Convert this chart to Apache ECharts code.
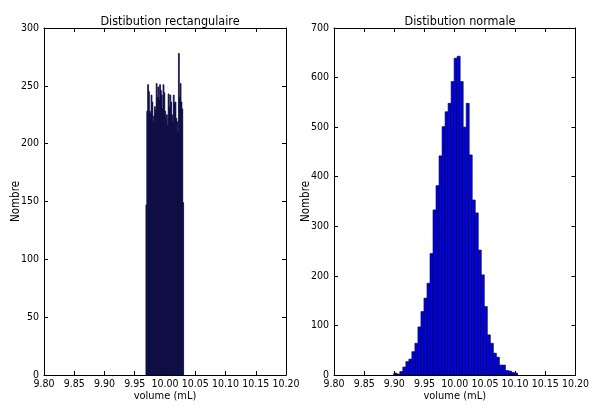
<!DOCTYPE html>
<html>
<head>
<meta charset="utf-8">
<script src="https://cdn.jsdelivr.net/npm/echarts@6/dist/echarts.min.js"></script>
<style>
html,body{margin:0;padding:0;background:#fff;}
#c{width:592px;height:410px;}
</style>
</head>
<body>
<div id="c"></div>
<script>
// ---- data ----
const titles = ['Distibution rectangulaire', 'Distibution normale'];
const xAxisTitle = 'volume (mL)';
const yAxisTitle = 'Nombre';
const xMin = 9.80, xMax = 10.20, xStep = 0.05;
const yMaxLeft = 300, yStepLeft = 50;
const yMaxRight = 700, yStepRight = 100;

// rectangular (uniform) histogram
const uniformBinStart = 9.9685;
const uniformBinWidth = 0.001414;
const uniformCounts = [
  147, 228, 251, 245, 228, 226, 242, 236, 219, 224,
  232, 229, 252, 240, 249, 238, 251, 246, 242, 230,
  251, 244, 228, 221, 225, 216, 243, 232, 242, 236,
  225, 218, 242, 235, 236, 222, 219, 210, 278, 240,
  252, 236, 230, 149
];

// normal histogram
const normalBinStart = 9.884;
const normalBinWidth = 0.005;
const normalCounts = [
  0, 0, 0, 4, 2, 7, 16, 27, 32, 47,
  64, 97, 128, 155, 185, 245, 333, 382, 442, 501,
  531, 548, 592, 639, 643, 592, 500, 548, 444, 353,
  327, 252, 202, 138, 81, 64, 44, 36, 20, 20,
  9, 8, 5, 4
];

function toBins(start, width, counts) {
  return counts.map((c, i) => [start + i * width, start + (i + 1) * width, c]);
}

const FONT = "'DejaVu Sans Condensed', 'Liberation Sans Narrow', 'DejaVu Sans', sans-serif";

function renderer(fill, stroke, lw) {
  return function (params, api) {
    const x0 = api.value(0), x1 = api.value(1), y = api.value(2);
    if (y <= 0) return null;
    const p0 = api.coord([x0, y]);
    const p1 = api.coord([x1, 0]);
    return {
      type: 'rect',
      shape: { x: p0[0], y: p0[1], width: p1[0] - p0[0], height: p1[1] - p0[1] },
      style: { fill: fill, stroke: stroke, lineWidth: lw }
    };
  };
}

const grids = [
  { left: 44, top: 28, width: 242, height: 347 },
  { left: 334, top: 28, width: 242, height: 347 }
];

const lineStyle = { color: '#000', width: 1 };
const tickStyle = { show: true, inside: true, length: 4, lineStyle: { color: '#000', width: 1 } };

function xAxes(gi) {
  return [
    {
      type: 'value', gridIndex: gi, min: xMin, max: xMax, interval: xStep, position: 'bottom',
      axisLine: { show: true, onZero: false, lineStyle: lineStyle },
      axisTick: tickStyle, splitLine: { show: false },
      axisLabel: { color: '#000', fontFamily: FONT, fontSize: 10.5, margin: 4, formatter: v => v.toFixed(2) },
      name: xAxisTitle, nameLocation: 'middle', nameGap: 16, nameMoveOverlap: false,
      nameTextStyle: { color: '#000', fontFamily: FONT, fontSize: 11 }
    },
    {
      type: 'value', gridIndex: gi, min: xMin, max: xMax, interval: xStep, position: 'top',
      axisLine: { show: true, onZero: false, lineStyle: lineStyle },
      axisTick: tickStyle, splitLine: { show: false }, axisLabel: { show: false }
    }
  ];
}
function yAxes(gi, ymax, step, gap) {
  return [
    {
      type: 'value', gridIndex: gi, min: 0, max: ymax, interval: step, position: 'left',
      axisLine: { show: true, onZero: false, lineStyle: lineStyle },
      axisTick: tickStyle, splitLine: { show: false },
      axisLabel: { color: '#000', fontFamily: FONT, fontSize: 10.5, margin: 5 },
      name: yAxisTitle, nameLocation: 'middle', nameGap: gap, nameRotate: 90, nameMoveOverlap: false,
      nameTextStyle: { color: '#000', fontFamily: FONT, fontSize: 11.5 }
    },
    {
      type: 'value', gridIndex: gi, min: 0, max: ymax, interval: step, position: 'right',
      axisLine: { show: true, onZero: false, lineStyle: lineStyle },
      axisTick: tickStyle, splitLine: { show: false }, axisLabel: { show: false }
    }
  ];
}

const chart = echarts.init(document.getElementById('c'), null, { renderer: 'canvas' });
chart.setOption({
  animation: false,
  backgroundColor: '#fff',
  title: [
    { text: titles[0], left: 165, top: 10, textAlign: 'center',
      textStyle: { color: '#000', fontWeight: 'normal', fontFamily: FONT, fontSize: 12.5 } },
    { text: titles[1], left: 455, top: 10, textAlign: 'center',
      textStyle: { color: '#000', fontWeight: 'normal', fontFamily: FONT, fontSize: 12.5 } }
  ],
  grid: grids,
  xAxis: [...xAxes(0), ...xAxes(1)],
  yAxis: [...yAxes(0, yMaxLeft, yStepLeft, 22), ...yAxes(1, yMaxRight, yStepRight, 21.5)],
  series: [
    {
      type: 'custom', xAxisIndex: 0, yAxisIndex: 0,
      renderItem: renderer('#0e0e45', '#0e0e45', 0.8),
      encode: { x: [0, 1], y: 2 },
      data: toBins(uniformBinStart, uniformBinWidth, uniformCounts)
    },
    {
      type: 'custom', xAxisIndex: 2, yAxisIndex: 2,
      renderItem: renderer('#0000e8', '#000030', 0.6),
      encode: { x: [0, 1], y: 2 },
      data: toBins(normalBinStart, normalBinWidth, normalCounts)
    }
  ]
});
</script>
</body>
</html>
